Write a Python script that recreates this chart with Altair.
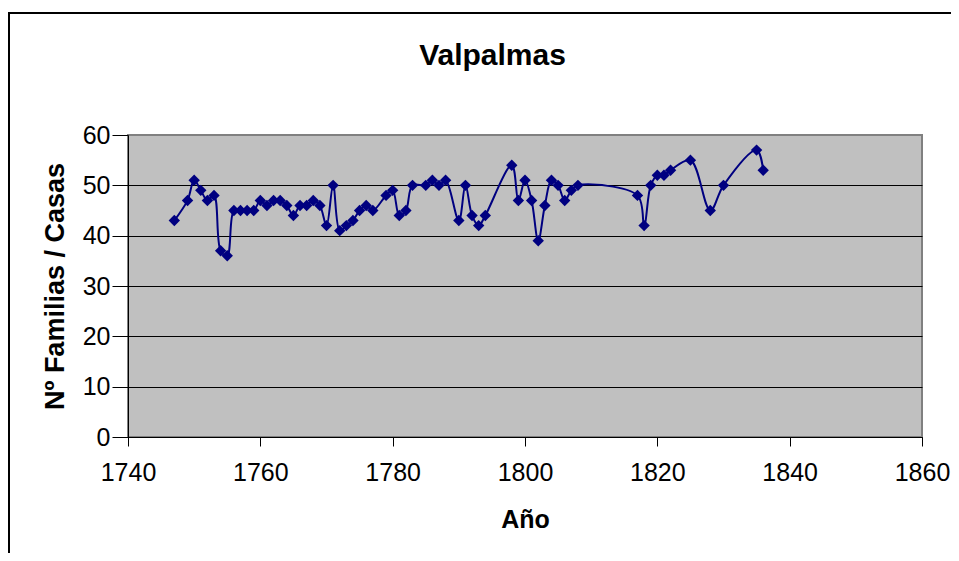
import altair as alt
import pandas as pd

years = [1747, 1749, 1750, 1751, 1752, 1753, 1754, 1755, 1756, 1757,
         1758, 1759, 1760, 1761, 1762, 1763, 1764, 1765, 1766, 1767,
         1768, 1769, 1770, 1771, 1772, 1773, 1774, 1775, 1776, 1777,
         1779, 1780, 1781, 1782, 1783, 1785, 1786, 1787, 1788, 1790,
         1791, 1792, 1793, 1794, 1798, 1799, 1800, 1801, 1802, 1803,
         1804, 1805, 1806, 1807, 1808, 1817, 1818, 1819, 1820, 1821,
         1822, 1825, 1828, 1830, 1835, 1836]
familias = [43, 47, 51, 49, 47, 48, 37, 36, 45, 45,
            45, 45, 47, 46, 47, 47, 46, 44, 46, 46,
            47, 46, 42, 50, 41, 42, 43, 45, 46, 45,
            48, 49, 44, 45, 50, 50, 51, 50, 51, 43,
            50, 44, 42, 44, 54, 47, 51, 47, 39, 46,
            51, 50, 47, 49, 50, 48, 42, 50, 52, 52,
            53, 55, 45, 50, 57, 53]
x_ticks = [1740, 1760, 1780, 1800, 1820, 1840, 1860]
y_ticks = [0, 10, 20, 30, 40, 50, 60]

df = pd.DataFrame({"year": years, "value": familias})

FONT = "Liberation Sans"
NAVY = "#000080"

x_enc = alt.X(
    "year:Q",
    scale=alt.Scale(domain=[1740, 1860], nice=False, zero=False),
    axis=alt.Axis(
        values=x_ticks, format="d", title="Año", grid=False,
        tickSize=9, tickColor="black", domainColor="black", domainWidth=1,
        labelFont=FONT, labelFontSize=25, labelColor="black", labelPadding=14,
        titleFont=FONT, titleFontSize=25, titleFontWeight="bold",
        titleColor="black", titlePadding=22, labelFlush=False,
    ),
)
y_enc = alt.Y(
    "value:Q",
    scale=alt.Scale(domain=[0, 60], nice=False),
    axis=alt.Axis(
        values=y_ticks, title="Nº  Familias / Casas", grid=True,
        gridColor={"condition": {"test": "datum.value === 60", "value": "#808080"},
                   "value": "black"},
        gridWidth=1, gridOpacity=1,
        tickSize=16, tickColor="black", domainColor="black", domainWidth=1,
        labelFont=FONT, labelFontSize=25, labelColor="black", labelPadding=2,
        titleFont=FONT, titleFontSize=27, titleFontWeight="bold",
        titleColor="black", titlePadding=13, labelFlush=False,
    ),
)

line = alt.Chart(df).mark_line(
    interpolate="catmull-rom", color=NAVY, strokeWidth=2
).encode(x=x_enc, y=y_enc)

points = alt.Chart(df).mark_point(
    shape="diamond", filled=True, size=130, color=NAVY, opacity=1
).encode(x="year:Q", y="value:Q")

frame_df = pd.DataFrame({"k": [0]})
frame_left = alt.Chart(frame_df).mark_rule(color="black", strokeWidth=2).encode(
    x=alt.value(-119), y=alt.value(-123), y2=alt.value(430)
)
frame_top = alt.Chart(frame_df).mark_rule(color="black", strokeWidth=2).encode(
    x=alt.value(-120), x2=alt.value(823), y=alt.value(-122)
)

chart = alt.layer(frame_left, frame_top, line, points).properties(
    width=794,
    height=302,
    autosize=alt.AutoSizeParams(type="none"),
    padding={"left": 120, "top": 127, "right": 29, "bottom": 116},
    background="white",
    title=alt.TitleParams(
        text="Valpalmas", font=FONT, fontSize=30, fontWeight="bold",
        color="black", anchor="middle", frame="group", dx=-32.5,
        baseline="alphabetic", offset=-84,
    ),
).configure_view(
    fill="#C0C0C0", stroke="#808080", strokeWidth=2
)

chart.save("out.html", embed_options={"renderer": "svg", "actions": False})
